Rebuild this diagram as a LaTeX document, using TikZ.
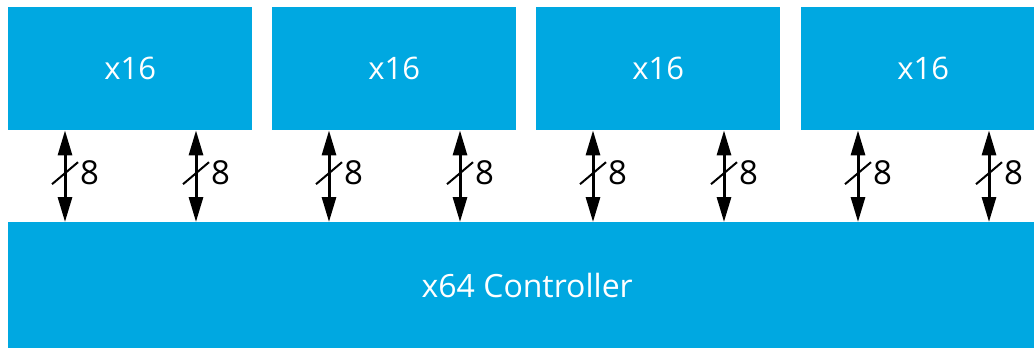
\documentclass[tikz,border=0pt]{standalone}
\usepackage{fontspec}
\setmainfont{Open Sans}
\usetikzlibrary{arrows.meta, positioning, calc}
\definecolor{chipblue}{RGB}{0, 168, 225}

\begin{document}
\begin{tikzpicture}[x=1pt, y=-1pt,
  box/.style={fill=chipblue, text=white, inner sep=0pt, anchor=north west},
  bus/.style={line width=3pt, {Triangle[length=25pt, width=14pt]}-{Triangle[length=25pt, width=14pt]}},
  buslabel/.style={anchor=west, inner sep=0pt, font=\fontsize{33}{36}\selectfont}]
  \clip (0,0) rectangle (1034,348);

  % four x16 devices
  \foreach \i/\x in {1/8, 2/272, 3/536, 4/801}
    \node[box, minimum width=244pt, minimum height=123pt, font=\fontsize{31}{34}\selectfont]
      (chip\i) at (\x,7) {x16};

  % controller
  \node[box, minimum width=1038pt, minimum height=126pt, font=\fontsize{32}{36}\selectfont]
    (ctrl) at (8,222) {x64 Controller};

  % two 8-bit buses per device
  \foreach \i in {1,...,4}
    \foreach \dx in {57,188} {
      \draw[bus] ([xshift=\dx pt]chip\i.south west) coordinate (top)
        -- (top |- ctrl.north) coordinate[midway] (mid);
      \draw[line width=2pt] ($(mid)+(-13,8)$) -- ($(mid)+(13,-14)$);
      \node[buslabel] (w\i\dx) at ($(mid)+(15,-3)$) {8};
    }
\end{tikzpicture}
\end{document}
